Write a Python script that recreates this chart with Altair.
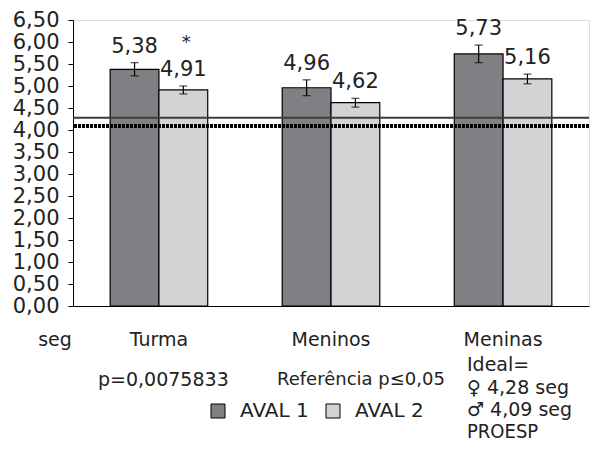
import altair as alt
import pandas as pd

categories = ["Turma", "Meninos", "Meninas"]
series = ["AVAL 1", "AVAL 2"]
aval1 = [5.38, 4.96, 5.73]
aval2 = [4.91, 4.62, 5.16]
err1 = [0.15, 0.18, 0.20]
err2 = [0.09, 0.10, 0.11]
star2 = ["*", "", ""]
ref_solid = [4.28]
ref_dotted = [4.09]
y_ticks = [0.0, 0.5, 1.0, 1.5, 2.0, 2.5, 3.0, 3.5, 4.0, 4.5, 5.0, 5.5, 6.0, 6.5]

rows = []
for i, c in enumerate(categories):
    for s, vals, errs, stars in (("AVAL 1", aval1, err1, ["", "", ""]), ("AVAL 2", aval2, err2, star2)):
        v = vals[i]
        e = errs[i]
        rows.append({
            "categoria": c, "avaliacao": s, "valor": v,
            "lo": v - e, "hi": v + e,
            "label": f"{v:.2f}".replace(".", ","),
            "star": stars[i],
        })
df = pd.DataFrame(rows)

FONT = "DejaVu Sans"
TXT = "#222222"

x_axis = alt.Axis(title=None, labelAngle=0, ticks=False, domainColor="black",
                  domainWidth=1, labelFontSize=19, labelColor=TXT,
                  labelPadding=24, labelFont=FONT)
x_scale = alt.Scale(paddingInner=0.433, paddingOuter=0.216)
y_axis = alt.Axis(values=y_ticks, title=None, grid=False, tickSize=5,
                  tickColor="black", domainColor="black",
                  labelExpr="replace(format(datum.value, '.2f'), '.', ',')",
                  labelFontSize=21, labelColor=TXT, labelPadding=9,
                  labelOverlap=False, labelFont=FONT)
y_scale = alt.Scale(domain=[0, 6.5], nice=False, zero=True)


def X():
    return alt.X("categoria:N", sort=categories, scale=x_scale, axis=x_axis)


def Y(field):
    return alt.Y(field, scale=y_scale, axis=y_axis)


xoff = alt.XOffset("avaliacao:N", sort=series, scale=alt.Scale(paddingInner=0, paddingOuter=0))

base = alt.Chart(df)

bars = base.mark_bar(stroke="black", strokeWidth=1.2).encode(
    x=X(), xOffset=xoff, y=Y("valor:Q"),
    color=alt.Color("avaliacao:N", sort=series,
                    scale=alt.Scale(domain=series, range=["#808084", "#d3d3d5"]),
                    legend=alt.Legend(title=None, orient="none", legendX=135, legendY=381,
                                      direction="horizontal", symbolType="square",
                                      symbolSize=196, symbolStrokeColor="black",
                                      symbolStrokeWidth=1, labelFontSize=20,
                                      labelColor=TXT, labelOffset=12, columnPadding=14,
                                      labelFont=FONT)),
)

err_rule = base.mark_rule(color="black", strokeWidth=1.2).encode(
    x=X(), xOffset=xoff, y=Y("lo:Q"), y2="hi:Q")
cap_lo = base.mark_tick(color="black", thickness=1.2, size=8).encode(
    x=X(), xOffset=xoff, y=Y("lo:Q"))
cap_hi = base.mark_tick(color="black", thickness=1.2, size=8).encode(
    x=X(), xOffset=xoff, y=Y("hi:Q"))

labels = base.mark_text(baseline="alphabetic", dy=-10, fontSize=21, color=TXT, font=FONT).encode(
    x=X(), xOffset=xoff, y=Y("hi:Q"), text="label:N")
stars = base.mark_text(baseline="alphabetic", dy=-38, dx=3, fontSize=18, color=TXT, font=FONT).encode(
    x=X(), xOffset=xoff, y=Y("hi:Q"), text="star:N")

solid = alt.Chart(pd.DataFrame({"ref": ref_solid})).mark_rule(color="#3c3c3c", strokeWidth=2).encode(
    y=Y("ref:Q"))
dotted = alt.Chart(pd.DataFrame({"ref": ref_dotted})).mark_rule(
    color="black", strokeWidth=4, strokeDash=[3, 1]).encode(y=Y("ref:Q"))


def note(text, x, y, size=19, align="left", font=FONT):
    return alt.Chart(pd.DataFrame({"t": [text]})).mark_text(
        align=align, baseline="middle", fontSize=size, color=TXT, font=font
    ).encode(x=alt.value(x), y=alt.value(y), text="t:N")


notes = [
    note("seg", -18, 320, align="center"),
    note("p=0,0075833", 25, 360),
    note("Referência p≤0,05", 204, 360, size=18),
    note("Ideal=", 394, 345),
    note("♀ 4,28 seg", 394, 368),
    note("♂ 4,09 seg", 394, 390),
    note("PROESP", 394, 412, size=20, font="DejaVu Sans Condensed"),
]

chart = alt.layer(bars, solid, dotted, err_rule, cap_lo, cap_hi, labels, stars, *notes).properties(
    width=516, height=286,
    padding={"left": 65, "top": 12, "right": 9, "bottom": 140},
    autosize=alt.AutoSizeParams(type="none"),
).configure_view(stroke=None).configure(font=FONT)

chart.save("out.html", embed_options={"renderer": "svg", "actions": False})
